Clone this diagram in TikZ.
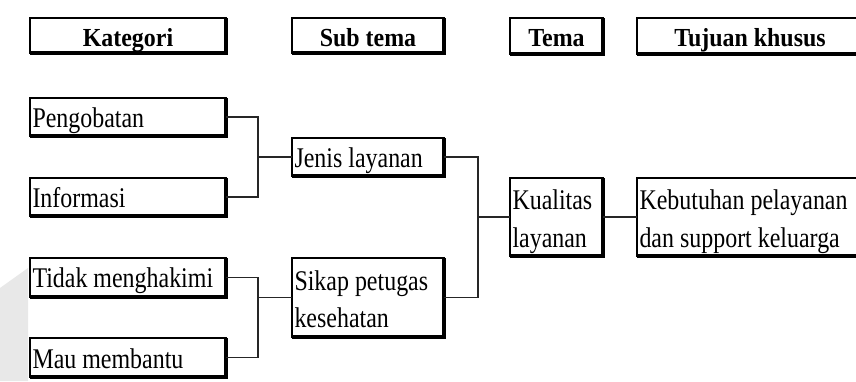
\documentclass[tikz,border=0pt]{standalone}
\usepackage{fontspec}
\setmainfont{Liberation Serif}
\newfontfamily\bodyfont[FakeStretch=0.84]{Liberation Serif}
\newfontfamily\headfont[FakeStretch=0.92]{Liberation Serif}
\begin{document}
\begin{tikzpicture}[x=1pt,y=-1pt,
  box/.style={draw=black, line width=2.8pt, rectangle, outer sep=0pt, inner sep=0pt, anchor=north west},
  txt/.style={inner sep=0pt, outer sep=0pt, anchor=base west, font=\bodyfont\fontsize{28.5}{37}\selectfont},
  htxt/.style={inner sep=0pt, outer sep=0pt, anchor=base, font=\headfont\fontsize{26}{30}\selectfont\bfseries},
  link/.style={draw=black!85, line width=1.4pt},
  heavy/.style={draw=black, line width=3.5pt}]
\useasboundingbox (0,0) rectangle (856,381);
\clip (0,0) rectangle (856,381);
\fill[white] (0,0) rectangle (856,381);
\fill[black!9] (0,288) -- (28,268) -- (28,381) -- (0,381) -- cycle;
% headers
\node[box, minimum width=196pt, minimum height=35pt] (hk) at (30,18) {};
\node[box, minimum width=152pt, minimum height=35pt] (hs) at (292,18) {};
\node[box, minimum width=93pt, minimum height=36pt] (ht) at (510,18) {};
\node[box, minimum width=240pt, minimum height=36pt] (hj) at (637,18) {};
\node[htxt] (hkt) at ([shift={(0,28.5)}]hk.north) {Kategori};
\node[htxt] (hst) at ([shift={(0,28.5)}]hs.north) {Sub tema};
\node[htxt] (htt) at ([shift={(0,28.5)}]ht.north) {Tema};
\node[htxt] (hjt) at ([shift={(-7,28.5)}]hj.north) {Tujuan khusus};
% kategori
\node[box, minimum width=196pt, minimum height=38pt] (peng) at (30,98) {};
\node[box, minimum width=196pt, minimum height=38pt] (info) at (30,178) {};
\node[box, minimum width=196pt, minimum height=39pt] (tidak) at (30,258) {};
\node[box, minimum width=196pt, minimum height=39pt] (mau) at (30,338) {};
\node[txt] (pengt) at ([shift={(2.5,29.5)}]peng.north west) {Pengobatan};
\node[txt] (infot) at ([shift={(2.5,29.5)}]info.north west) {Informasi};
\node[txt] (tidakt) at ([shift={(2.5,29.5)}]tidak.north west) {Tidak menghakimi};
\node[txt] (maut) at ([shift={(2.5,30)}]mau.north west) {Mau membantu};
% sub tema
\node[box, minimum width=152pt, minimum height=38pt] (jenis) at (292,138) {};
\node[box, minimum width=152pt, minimum height=79pt] (sikap) at (292,258) {};
\node[txt] (jenist) at ([shift={(2.5,29.5)}]jenis.north west) {Jenis layanan};
\node[txt] (sikapt1) at ([shift={(2.5,32)}]sikap.north west) {Sikap petugas};
\node[txt] (sikapt2) at ([shift={(2.5,69)}]sikap.north west) {kesehatan};
% tema
\node[box, minimum width=93pt, minimum height=78pt] (kual) at (510,178) {};
\node[txt] (kualt1) at ([shift={(2.5,31)}]kual.north west) {Kualitas};
\node[txt] (kualt2) at ([shift={(2.5,69)}]kual.north west) {layanan};
% tujuan
\node[box, minimum width=240pt, minimum height=78pt] (keb) at (637,178) {};
\node[txt] (kebt1) at ([shift={(2.5,31)}]keb.north west) {Kebutuhan pelayanan};
\node[txt] (kebt2) at ([shift={(2.5,69)}]keb.north west) {dan support keluarga};
% heavier bottom and right edges
\foreach \n in {hk,hs,ht,hj,peng,info,tidak,mau,jenis,sikap,kual,keb}
  \draw[heavy] (\n.south west) -- (\n.south east) -- (\n.north east);
% connectors
\coordinate (c1) at (258,0);
\coordinate (c2) at (258,0);
\coordinate (c3) at (478,0);
\draw[link] (peng.east) -| (c1 |- info.east) -- (info.east);
\draw[link] (c1 |- jenis.west) -- (jenis.west);
\draw[link] (tidak.east) -| (c2 |- mau.east) -- (mau.east);
\draw[link] (c2 |- sikap.west) -- (sikap.west);
\draw[link] (jenis.east) -| (c3 |- sikap.east) -- (sikap.east);
\draw[link] (c3 |- kual.west) -- (kual.west);
\draw[link] (kual.east) -- (keb.west);
\end{tikzpicture}
\end{document}
